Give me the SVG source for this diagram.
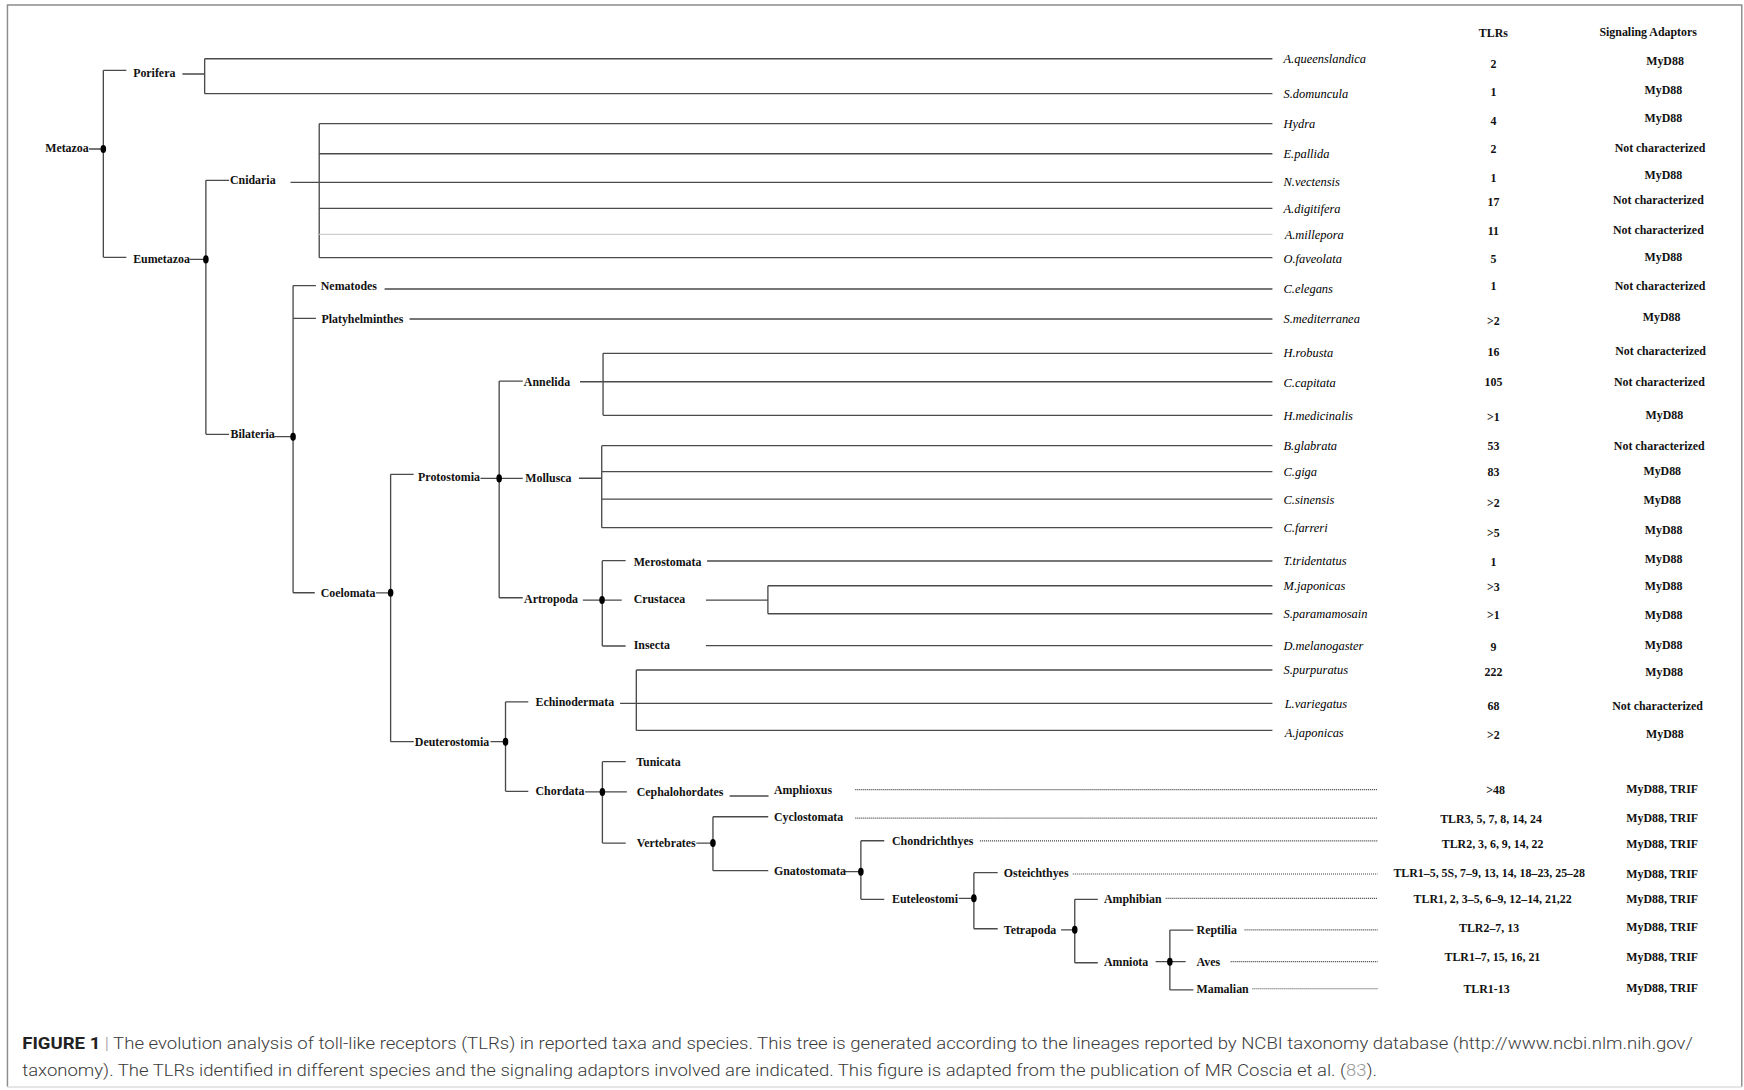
<svg xmlns="http://www.w3.org/2000/svg" width="1744" height="1090" viewBox="0 0 1744 1090">
<style>
.ln{stroke:#4a4a4a;stroke-width:1.2;fill:none}
.lt{stroke:#cfcfcf;stroke-width:1.15;fill:none}
.dt{stroke:#3a3a3a;stroke-width:1.05;stroke-dasharray:0.9 0.9;fill:none}
.dot{fill:#000}
.tx{font-family:"Liberation Serif","Times New Roman",serif;font-weight:bold;font-size:10.7px;fill:#111}
.sp{font-family:"Liberation Serif","Times New Roman",serif;font-style:italic;font-size:11.2px;fill:#000}
.c{text-anchor:middle}
.cap{font-family:Roboto,"Liberation Sans",sans-serif;font-weight:300;font-size:15px;fill:#3a3a3a}
</style>
<rect x="0" y="0" width="1744" height="1090" fill="#fff"/>
<g transform="scale(1.112245)">
<path d="M6.7,977 V4.5 H1566 V977" fill="none" stroke="#8c8c8c" stroke-width="1.3"/>
<path d="M6.7,977.3 H1566" fill="none" stroke="#dcdcdc" stroke-width="1.2"/>

<g id="connectors">
<!-- Metazoa -->
<path class="ln" d="M80,134 H92.9 M92.9,63.2 V231.4 M92.9,63.2 H113.6 M92.9,231.4 H113.6"/>
<!-- Porifera -->
<path class="ln" d="M164,66.5 H184 M184,52.8 V84.2 M184,52.8 H1144 M184,84.2 H1144"/>
<!-- Eumetazoa -->
<path class="ln" d="M170.5,233.2 H185.1 M185.1,162.1 V390.5 M185.1,162.1 H206 M185.1,390.5 H206"/>
<!-- Cnidaria -->
<path class="ln" d="M261.2,163.9 H287 M287,111.2 V231.7 M287,111.2 H1144 M287,138.2 H1144 M287,163.9 H1144 M287,187.3 H1144 M287,231.7 H1144"/>
<path class="lt" d="M287,210.7 H1144"/>
<!-- Bilateria -->
<path class="ln" d="M246.5,392.6 H263.5 M263.5,256.8 V532.9 M263.5,256.8 H284 M263.5,286.2 H284 M263.5,532.9 H283"/>
<path class="ln" d="M345.8,259.8 H1144 M368.2,286.8 H1144"/>
<!-- Coelomata -->
<path class="ln" d="M338,533 H351.2 M351.2,426.5 V666.8 M351.2,426.5 H371.9 M351.2,666.8 H372"/>
<!-- Protostomia -->
<path class="ln" d="M432,430.1 H448.8 M448.8,342.6 V537.4 M448.8,342.6 H470 M448.8,430.1 H470 M448.8,537.4 H470"/>
<!-- Annelida -->
<path class="ln" d="M521.5,343.2 H1144 M542.2,317.7 V373.4 M542.2,317.7 H1144 M542.2,373.4 H1144"/>
<!-- Mollusca -->
<path class="ln" d="M520.5,430 H541 M541,400.7 V474.4 M541,400.7 H1144 M541,424.1 H1144 M541,448.7 H1144 M541,474.4 H1144"/>
<!-- Artropoda -->
<path class="ln" d="M524,539.5 H559 M541.5,504.1 V580.8 M541.5,504.1 H562.5 M541.5,580.8 H562.5"/>
<path class="ln" d="M635.7,504.4 H1144 M634.7,539.5 H690.4 M690.4,526.6 V551.8 M690.4,526.6 H1144 M690.4,551.8 H1144 M634.7,580.5 H1144"/>
<!-- Deuterostomia -->
<path class="ln" d="M441,666.8 H454.5 M454.5,631 V711.5 M454.5,631 H475 M454.5,711.5 H475"/>
<!-- Echinodermata -->
<path class="ln" d="M557.5,632.4 H1144 M572.1,602.4 V656.7 M572.1,602.4 H1144 M572.1,656.7 H1144"/>
<!-- Chordata -->
<path class="ln" d="M526,712 H563.6 M541.6,684.8 V758 M541.6,684.8 H562.6 M541.6,758 H562.6"/>
<path class="ln" d="M656,715.7 H691"/>
<path class="dt" d="M769,710 H1238.5"/>
<!-- Vertebrates -->
<path class="ln" d="M626,758 H641 M641,734.3 V782.8 M641,734.3 H690.7 M641,782.8 H690.7"/>
<path class="dt" d="M769,735.5 H1238.5"/>
<!-- Gnatostomata -->
<path class="ln" d="M759,783.7 H774 M774,755.9 V808.6 M774,755.9 H795 M774,808.6 H795"/>
<path class="dt" d="M881,756 H1238.5"/>
<!-- Euteleostomi -->
<path class="ln" d="M862,807.7 H875.6 M875.6,784.6 V835 M875.6,784.6 H897 M875.6,835 H897"/>
<path class="dt" d="M964.5,785.8 H1238.5"/>
<!-- Tetrapoda -->
<path class="ln" d="M954,836 H966.3 M966.3,808.6 V865.6 M966.3,808.6 H987 M966.3,865.6 H987"/>
<path class="dt" d="M1048,807.7 H1238.5"/>
<!-- Amniota -->
<path class="ln" d="M1039,864.6 H1066 M1051.8,836.2 V890 M1051.8,836.2 H1073 M1051.8,890 H1073"/>
<path class="dt" d="M1119,836 H1238.5 M1106.5,864.6 H1238.5 M1126,889 H1238.5"/>
</g>

<g id="header">
<text class="tx c" x="1342.7" y="33.7">TLRs</text>
<text class="tx" x="1438" y="32.2">Signaling Adaptors</text>
</g>

<g id="n-metazoa"><text class="tx" x="40.6" y="137.1">Metazoa</text><ellipse class="dot" cx="92.9" cy="134" rx="2.5" ry="3.6"/></g>
<g id="n-porifera"><text class="tx" x="119.7" y="69.6">Porifera</text></g>
<g id="n-eumetazoa"><text class="tx" x="119.7" y="236.9">Eumetazoa</text><ellipse class="dot" cx="185.1" cy="233.2" rx="2.5" ry="3.6"/></g>
<g id="n-cnidaria"><text class="tx" x="206.8" y="165.5">Cnidaria</text></g>
<g id="n-bilateria"><text class="tx" x="207.3" y="394.2">Bilateria</text><ellipse class="dot" cx="263.5" cy="392.6" rx="2.5" ry="3.6"/></g>
<g id="n-nematodes"><text class="tx" x="288.4" y="260.8">Nematodes</text></g>
<g id="n-platyhelminthes"><text class="tx" x="289" y="290.5">Platyhelminthes</text></g>
<g id="n-coelomata"><text class="tx" x="288.3" y="536.6">Coelomata</text><ellipse class="dot" cx="351.2" cy="532.9" rx="2.5" ry="3.6"/></g>
<g id="n-protostomia"><text class="tx" x="375.9" y="432.3">Protostomia</text><ellipse class="dot" cx="448.8" cy="430.1" rx="2.5" ry="3.6"/></g>
<g id="n-annelida"><text class="tx" x="471" y="346.9">Annelida</text></g>
<g id="n-mollusca"><text class="tx" x="472.3" y="433.5">Mollusca</text></g>
<g id="n-artropoda"><text class="tx" x="471.2" y="542">Artropoda</text><ellipse class="dot" cx="541.3" cy="539.5" rx="2.5" ry="3.6"/></g>
<g id="n-merostomata"><text class="tx" x="569.7" y="508.7">Merostomata</text></g>
<g id="n-crustacea"><text class="tx" x="569.7" y="542">Crustacea</text></g>
<g id="n-insecta"><text class="tx" x="569.7" y="583.9">Insecta</text></g>
<g id="n-deuterostomia"><text class="tx" x="373" y="670.4">Deuterostomia</text><ellipse class="dot" cx="454.5" cy="666.8" rx="2.5" ry="3.6"/></g>
<g id="n-echinodermata"><text class="tx" x="481.5" y="634.7">Echinodermata</text></g>
<g id="n-chordata"><text class="tx" x="481.5" y="715.2">Chordata</text><ellipse class="dot" cx="541.6" cy="712" rx="2.5" ry="3.6"/></g>
<g id="n-tunicata"><text class="tx" x="572" y="688.5">Tunicata</text></g>
<g id="n-cephalohordates"><text class="tx" x="572.5" y="715.8">Cephalohordates</text></g>
<g id="n-amphioxus"><text class="tx" x="695.8" y="714">Amphioxus</text></g>
<g id="n-vertebrates"><text class="tx" x="572.5" y="761.7">Vertebrates</text><ellipse class="dot" cx="641" cy="758" rx="2.5" ry="3.6"/></g>
<g id="n-cyclostomata"><text class="tx" x="695.8" y="737.8">Cyclostomata</text></g>
<g id="n-gnatostomata"><text class="tx" x="695.8" y="786.5">Gnatostomata</text><ellipse class="dot" cx="774" cy="783.7" rx="2.5" ry="3.6"/></g>
<g id="n-chondrichthyes"><text class="tx" x="802" y="759.8">Chondrichthyes</text></g>
<g id="n-euteleostomi"><text class="tx" x="802" y="811.5">Euteleostomi</text><ellipse class="dot" cx="875.6" cy="807.7" rx="2.5" ry="3.6"/></g>
<g id="n-osteichthyes"><text class="tx" x="902.5" y="788.7">Osteichthyes</text></g>
<g id="n-tetrapoda"><text class="tx" x="902.5" y="839.5">Tetrapoda</text><ellipse class="dot" cx="966.3" cy="836" rx="2.5" ry="3.6"/></g>
<g id="n-amphibian"><text class="tx" x="992.6" y="811.6">Amphibian</text></g>
<g id="n-amniota"><text class="tx" x="992.6" y="868.5">Amniota</text><ellipse class="dot" cx="1051.8" cy="864.6" rx="2.5" ry="3.6"/></g>
<g id="n-reptilia"><text class="tx" x="1075.8" y="839.7">Reptilia</text></g>
<g id="n-aves"><text class="tx" x="1075.8" y="868.5">Aves</text></g>
<g id="n-mamalian"><text class="tx" x="1075.8" y="892.8">Mamalian</text></g>

<g id="species">
<text class="sp" x="1154" y="56.6">A.queenslandica</text>
<text class="sp" x="1154" y="87.7">S.domuncula</text>
<text class="sp" x="1154" y="114.7">Hydra</text>
<text class="sp" x="1154" y="142">E.pallida</text>
<text class="sp" x="1154" y="167.1">N.vectensis</text>
<text class="sp" x="1154" y="191.1">A.digitifera</text>
<text class="sp" x="1155" y="214.5">A.millepora</text>
<text class="sp" x="1154" y="236.1">O.faveolata</text>
<text class="sp" x="1154" y="263">C.elegans</text>
<text class="sp" x="1154" y="290.6">S.mediterranea</text>
<text class="sp" x="1154" y="320.9">H.robusta</text>
<text class="sp" x="1154" y="347.6">C.capitata</text>
<text class="sp" x="1154" y="377.5">H.medicinalis</text>
<text class="sp" x="1154" y="404.5">B.glabrata</text>
<text class="sp" x="1154" y="427.9">C.giga</text>
<text class="sp" x="1154" y="452.8">C.sinensis</text>
<text class="sp" x="1154" y="477.9">C.farreri</text>
<text class="sp" x="1154" y="508.2">T.tridentatus</text>
<text class="sp" x="1154" y="530.4">M.japonicas</text>
<text class="sp" x="1154" y="555.6">S.paramamosain</text>
<text class="sp" x="1154" y="584.3">D.melanogaster</text>
<text class="sp" x="1154" y="606.2">S.purpuratus</text>
<text class="sp" x="1155" y="636.2">L.variegatus</text>
<text class="sp" x="1155" y="662.2">A.japonicas</text>
</g>

<g id="tlrs">
<text class="tx c" x="1342.7" y="60.7">2</text>
<text class="tx c" x="1342.7" y="86.1">1</text>
<text class="tx c" x="1342.7" y="112.2">4</text>
<text class="tx c" x="1342.7" y="137.4">2</text>
<text class="tx c" x="1342.7" y="164">1</text>
<text class="tx c" x="1342.7" y="185.6">17</text>
<text class="tx c" x="1342.7" y="211.4">11</text>
<text class="tx c" x="1342.7" y="236.6">5</text>
<text class="tx c" x="1342.7" y="260.8">1</text>
<text class="tx c" x="1342.7" y="292">&gt;2</text>
<text class="tx c" x="1342.7" y="319.9">16</text>
<text class="tx c" x="1342.7" y="347.2">105</text>
<text class="tx c" x="1342.7" y="378.3">&gt;1</text>
<text class="tx c" x="1342.7" y="404.4">53</text>
<text class="tx c" x="1342.7" y="428.4">83</text>
<text class="tx c" x="1342.7" y="455.7">&gt;2</text>
<text class="tx c" x="1342.7" y="482.7">&gt;5</text>
<text class="tx c" x="1342.7" y="508.7">1</text>
<text class="tx c" x="1342.7" y="531.7">&gt;3</text>
<text class="tx c" x="1342.7" y="556.9">&gt;1</text>
<text class="tx c" x="1342.7" y="585.7">9</text>
<text class="tx c" x="1342.7" y="608.2">222</text>
<text class="tx c" x="1342.7" y="638.5">68</text>
<text class="tx c" x="1342.7" y="664.2">&gt;2</text>
<text class="tx c" x="1344.6" y="714">&gt;48</text>
<text class="tx c" x="1340.6" y="739.5">TLR3, 5, 7, 8, 14, 24</text>
<text class="tx c" x="1342" y="762.7">TLR2, 3, 6, 9, 14, 22</text>
<text class="tx c" x="1338.9" y="788.3">TLR1–5, 5S, 7–9, 13, 14, 18–23, 25–28</text>
<text class="tx c" x="1342" y="812.3">TLR1, 2, 3–5, 6–9, 12–14, 21,22</text>
<text class="tx c" x="1338.8" y="837.7">TLR2–7, 13</text>
<text class="tx c" x="1341.8" y="864.4">TLR1–7, 15, 16, 21</text>
<text class="tx c" x="1336.5" y="892.9">TLR1-13</text>
</g>

<g id="adaptors">
<text class="tx c" x="1497" y="58.5">MyD88</text>
<text class="tx c" x="1495.5" y="84.6">MyD88</text>
<text class="tx c" x="1495.5" y="109.5">MyD88</text>
<text class="tx c" x="1492.5" y="136.5">Not characterized</text>
<text class="tx c" x="1495.5" y="161">MyD88</text>
<text class="tx c" x="1491" y="183.5">Not characterized</text>
<text class="tx c" x="1491" y="210.5">Not characterized</text>
<text class="tx c" x="1495.5" y="234.8">MyD88</text>
<text class="tx c" x="1492.5" y="260.8">Not characterized</text>
<text class="tx c" x="1494" y="289">MyD88</text>
<text class="tx c" x="1493" y="319.3">Not characterized</text>
<text class="tx c" x="1491.9" y="347">Not characterized</text>
<text class="tx c" x="1496.4" y="376.5">MyD88</text>
<text class="tx c" x="1491.8" y="404.4">Not characterized</text>
<text class="tx c" x="1494.5" y="427.5">MyD88</text>
<text class="tx c" x="1494.5" y="452.7">MyD88</text>
<text class="tx c" x="1495.7" y="480.5">MyD88</text>
<text class="tx c" x="1495.7" y="506">MyD88</text>
<text class="tx c" x="1495.7" y="530.9">MyD88</text>
<text class="tx c" x="1495.7" y="556.7">MyD88</text>
<text class="tx c" x="1495.7" y="583.7">MyD88</text>
<text class="tx c" x="1496.2" y="607.6">MyD88</text>
<text class="tx c" x="1490.3" y="638.5">Not characterized</text>
<text class="tx c" x="1496.8" y="663.7">MyD88</text>
<text class="tx c" x="1494.4" y="713.4">MyD88, TRIF</text>
<text class="tx c" x="1494.4" y="738.9">MyD88, TRIF</text>
<text class="tx c" x="1494.4" y="762.6">MyD88, TRIF</text>
<text class="tx c" x="1494.4" y="789.5">MyD88, TRIF</text>
<text class="tx c" x="1494.4" y="812.3">MyD88, TRIF</text>
<text class="tx c" x="1494.4" y="836.9">MyD88, TRIF</text>
<text class="tx c" x="1494.4" y="863.9">MyD88, TRIF</text>
<text class="tx c" x="1494.4" y="891.7">MyD88, TRIF</text>
</g>

<g id="caption">
<text class="cap" x="20" y="943.5" textLength="1502" lengthAdjust="spacingAndGlyphs"><tspan font-weight="bold" fill="#222">FIGURE 1</tspan> <tspan fill="#999">|</tspan> The evolution analysis of toll-like receptors (TLRs) in reported taxa and species. This tree is generated according to the lineages reported by NCBI taxonomy database (http://www.ncbi.nlm.nih.gov/</text>
<text class="cap" x="20" y="967.5" textLength="1218" lengthAdjust="spacingAndGlyphs">taxonomy). The TLRs identified in different species and the signaling adaptors involved are indicated. This figure is adapted from the publication of MR Coscia et al. (<tspan fill="#999">83</tspan>).</text>
</g>
</g>
</svg>
